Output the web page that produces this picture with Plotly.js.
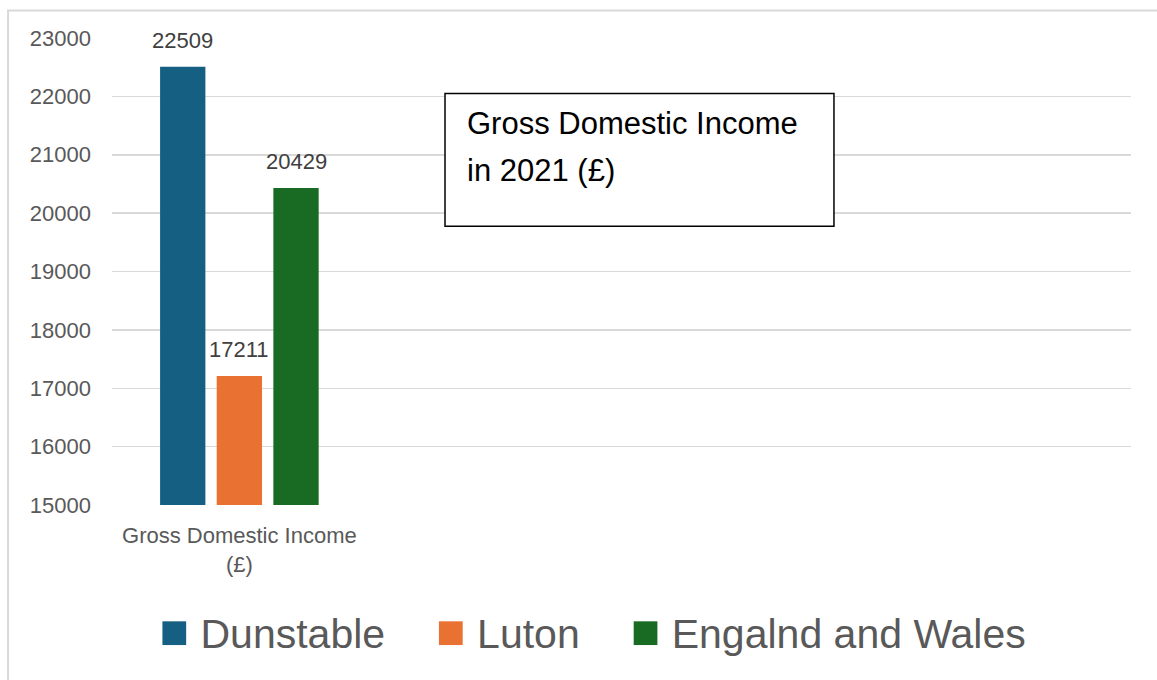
<!DOCTYPE html>
<html>
<head>
<meta charset="utf-8">
<script src="https://cdn.plot.ly/plotly-3.0.1.min.js"></script>
<style>html,body{margin:0;padding:0;background:#fff;}#chart{width:1157px;height:680px;}</style>
</head>
<body>
<div id="chart"></div>
<script>
const categories = ["Gross Domestic Income<br>(£)"];
const seriesNames = ["Dunstable", "Luton", "Engalnd and Wales"];
const dunstable = [22509];
const luton = [17211];
const englandWales = [20429];
const seriesColors = ["#156082", "#E97132", "#196B24"];
const yTicks = [15000, 16000, 17000, 18000, 19000, 20000, 21000, 22000, 23000];
const boxTitle = "Gross Domestic Income";
const boxSubtitle = "in 2021 (£)";

const FONT = "Liberation Sans, Arial, sans-serif";
const values = [dunstable, luton, englandWales];

// plot geometry used to place the data labels over the grouped bars
const PLOT_W = 1157 - 112 - 26;
const N_SLOTS = 4;
const BARGAP = 0.333;
const slotW = PLOT_W / N_SLOTS * (1 - BARGAP) / seriesNames.length;

const barTraces = seriesNames.map((name, i) => ({
  type: "bar",
  name: name,
  x: categories,
  y: values[i],
  marker: {color: seriesColors[i]},
  showlegend: false,
  hoverinfo: "name+y"
}));

const legendTraces = seriesNames.map((name, i) => ({
  type: "scatter",
  mode: "markers",
  x: [null], y: [null],
  name: "<span style='color:" + seriesColors[i] + ";font-size:49px'>■</span> " + name,
  marker: {color: "rgba(0,0,0,0)", size: 2},
  showlegend: true,
  hoverinfo: "skip"
}));

const labelAnnotations = [];
values.forEach((vals, i) => {
  vals.forEach((v, j) => {
    labelAnnotations.push({
      xref: "x", yref: "y", x: categories[j], y: v,
      xshift: (i - (seriesNames.length - 1) / 2) * slotW,
      yanchor: "bottom", yshift: 12,
      text: String(v), showarrow: false,
      font: {family: FONT, size: 22, color: "#404040"}
    });
  });
});

const layout = {
  width: 1157, height: 680,
  margin: {l: 112, r: 26, t: 37.5, b: 175},
  paper_bgcolor: "#ffffff", plot_bgcolor: "#ffffff",
  font: {family: FONT, color: "#595959"},
  barmode: "group",
  bargap: BARGAP,
  bargroupgap: 0.2,
  showlegend: true,
  legend: {
    orientation: "h", x: 0.4519, xanchor: "center", y: -0.2717, yanchor: "middle",
    font: {family: FONT, size: 41, color: "#595959"},
    itemwidth: 36
  },
  xaxis: {
    type: "category",
    range: [-0.5, 3.5],
    showgrid: false, zeroline: false, showline: false,
    ticks: "",
    ticklabelstandoff: 15,
    tickfont: {family: FONT, size: 22, color: "#595959"}
  },
  yaxis: {
    range: [15000, 23000],
    tickvals: yTicks,
    ticktext: yTicks.map(String),
    showgrid: true, gridcolor: "#D9D9D9", gridwidth: 1.5,
    zeroline: false, showline: false, ticks: "",
    ticklabelstandoff: 20,
    tickfont: {family: FONT, size: 22, color: "#595959"}
  },
  shapes: [
    {type: "rect", xref: "paper", yref: "paper", x0: -0.102, x1: 1.2, y0: -0.5, y1: 1.0588,
     line: {color: "#D9D9D9", width: 2}, fillcolor: "rgba(0,0,0,0)", layer: "below"},
    {type: "rect", xref: "paper", yref: "paper", x0: 0.3268, x1: 0.7085, y0: 0.5968, y1: 0.8813,
     line: {color: "#000000", width: 1.5}, fillcolor: "#ffffff", layer: "above"}
  ],
  annotations: labelAnnotations.concat([
    {xref: "paper", yref: "paper", x: 0.3464, y: 0.8171, xanchor: "left", yanchor: "middle",
     text: boxTitle, showarrow: false, font: {family: FONT, size: 31, color: "#000000"}},
    {xref: "paper", yref: "paper", x: 0.3464, y: 0.7166, xanchor: "left", yanchor: "middle",
     text: boxSubtitle, showarrow: false, font: {family: FONT, size: 31, color: "#000000"}}
  ])
};

Plotly.newPlot("chart", barTraces.concat(legendTraces), layout, {displayModeBar: false, staticPlot: true});
</script>
</body>
</html>
